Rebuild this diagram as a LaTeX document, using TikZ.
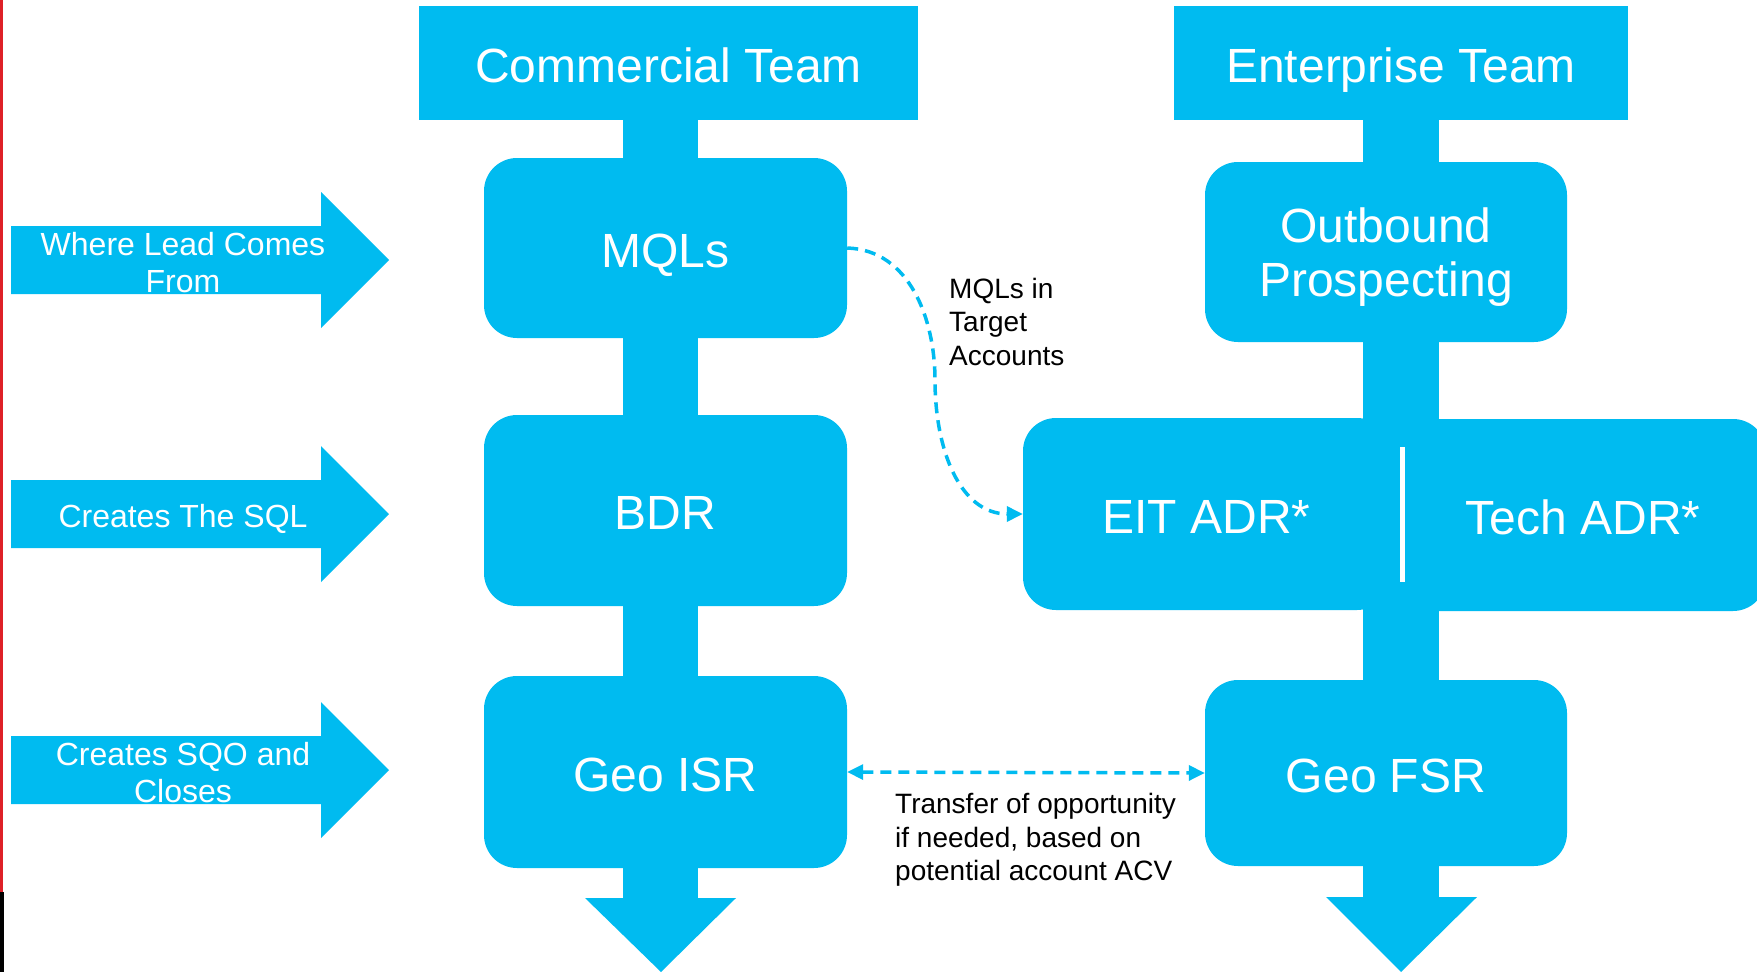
\documentclass[tikz,border=0pt]{standalone}
\usepackage{fontspec}
\setmainfont{Liberation Sans}
\usetikzlibrary{arrows.meta}
\definecolor{cblue}{RGB}{0,187,240}
\definecolor{redline}{RGB}{222,32,40}
\begin{document}
\begin{tikzpicture}[x=1pt,y=-1pt,
  blk/.style={fill=cblue, draw=none},
  hdr/.style={blk, text=white, font=\fontsize{48}{54}\selectfont, inner sep=0pt, text height=40.8pt, text depth=2.4pt},
  rbox/.style={blk, rounded corners=33pt, text=white, font=\fontsize{48}{54}\selectfont, inner sep=0pt, text height=40.8pt, text depth=2.4pt},
  mlbl/.style={text=white, font=\fontsize{48}{54}\selectfont, inner sep=0pt, align=center},
  lbl/.style={text=white, font=\fontsize{32}{37}\selectfont, align=center, inner sep=0pt},
  note/.style={text=black, align=left, inner sep=0pt, anchor=north west},
  link/.style={draw=cblue, line width=3.5pt, dash pattern=on 11pt off 7pt},
]
\useasboundingbox (0,0) rectangle (1757,972);
\fill[white] (0,0) rectangle (1757,972);
% left edge lines
\fill[redline] (0,0) rectangle (2.5,892);
\fill[black] (0,892) rectangle (3.5,972);
% column stems and heads
\fill[cblue] (623,118) rectangle (698,899);
\fill[cblue] (585,898) -- (736,898) -- (661,972) -- cycle;
\fill[cblue] (1363,118) rectangle (1439,898);
\fill[cblue] (1326,897) -- (1477,897) -- (1401,972) -- cycle;
% headers
\node[hdr, minimum width=499pt, minimum height=114pt] (comm) at (668.5,63) {Commercial Team};
\node[hdr, minimum width=454pt, minimum height=114pt] (ent) at (1401,63) {Enterprise Team};
% commercial boxes
\node[rbox, minimum width=363pt, minimum height=180pt] (mql) at (665.5,248) {MQLs};
\node[rbox, minimum width=363pt, minimum height=191pt] (bdr) at (665.5,510.5) {BDR};
\node[rbox, minimum width=363pt, minimum height=192pt] (isr) at (665.5,772) {Geo ISR};
% enterprise boxes
\node[rbox, minimum width=362pt, minimum height=180pt] (out) at (1386,252) {};
\node[mlbl] (outtxt) at (1386,257.5) {Outbound\\Prospecting};
\node[rbox, minimum width=367pt, minimum height=192pt] (eit) at (1206.5,514) {EIT ADR*};
\begin{scope}
\clip (0,0) rectangle (1757,972);
\node[rbox, minimum width=360pt, minimum height=192pt] (tech) at (1586,515) {\hspace*{-6pt}Tech ADR*};
\end{scope}
\node[rbox, minimum width=362pt, minimum height=186pt] (fsr) at (1386,773) {Geo FSR};
\fill[white] (1400,447) rectangle (1405,582);
% left arrows
\fill[cblue] (11,226) -- (321,226) -- (321,192) -- (389,260) -- (321,328) -- (321,294) -- (11,294) -- cycle;
\node[lbl] (a1) at (183,262.5) {Where Lead Comes\\From};
\fill[cblue] (11,480) -- (321,480) -- (321,446) -- (389,514) -- (321,582) -- (321,548) -- (11,548) -- cycle;
\node[lbl] (a2) at (183,519) {Creates The SQL};
\fill[cblue] (11,736) -- (321,736) -- (321,702) -- (389,770) -- (321,838) -- (321,804) -- (11,804) -- cycle;
\node[lbl] (a3) at (183,772.5) {Creates SQO and\\Closes};
% connectors
\coordinate (bend) at (935,380);
\draw[link, -{Triangle[length=16pt,width=15pt]}] (mql.east) .. controls (910,250) and (935,320) .. (bend) .. controls (935,450) and (960,514) .. (eit.west);
\draw[link, {Triangle[length=16pt,width=15pt]}-{Triangle[length=16pt,width=15pt]}] (isr.east) -- (fsr.west);
% notes
\node[note, font=\fontsize{28}{33.5}\selectfont] (n1) at (949,278) {MQLs in\\Target\\Accounts};
\node[note, font=\fontsize{28}{33.5}\selectfont] (n2) at (895,793.5) {Transfer of opportunity\\if needed, based on\\potential account ACV};
\end{tikzpicture}
\end{document}
